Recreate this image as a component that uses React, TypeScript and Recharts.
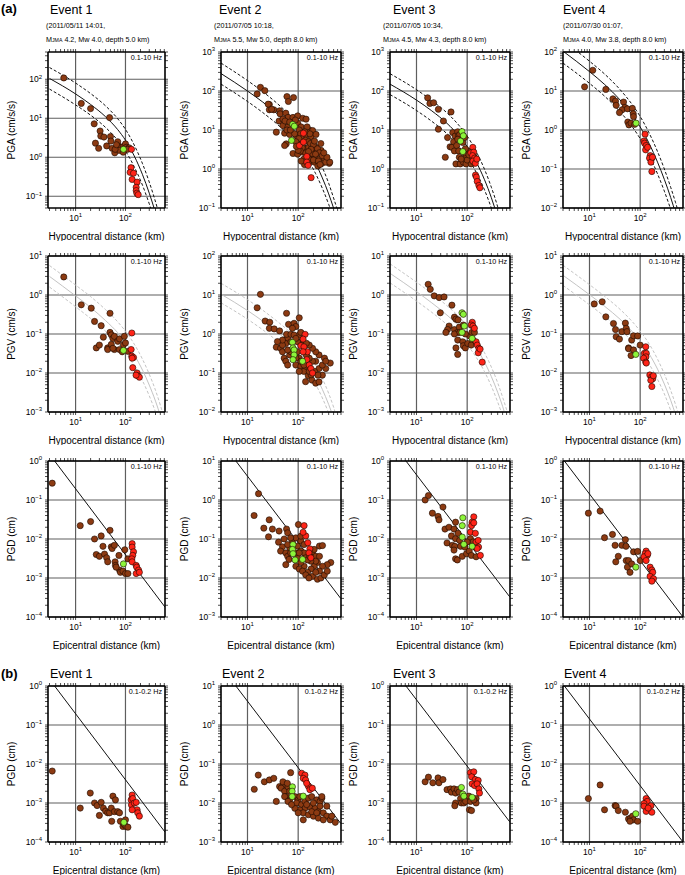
import React from 'react'
import { ComposedChart, XAxis, YAxis, Scatter, Line, ReferenceLine } from 'recharts'

type Pt = [number, number]

// ---------- (a) PGA, 0.1-10 Hz ----------
const e1PgaBrown: Pt[] = [[5.8,108],[13,24],[20,17.7],[23.6,7.2],[48,10.4],[31,4.7],[32,3.5],[37,3.3],[25,2.3],[29,1.7],[42,1.95],[50,3.4],[51,2.6],[54,1.7],[61,1.3],[70,2.5],[73,1.9],[82,1.8],[92,1.9],[100,2.2],[104,1.8],[118,1.75],[75,1.5],[90,1.35],[62,1.6],[66,2.1],[110,1.6]]
const e1PgaGreen: Pt[] = [[91,1.6]]
const e1PgaRed: Pt[] = [[132,1.6],[129,0.54],[124,0.41],[145,0.39],[136,0.27],[171,0.23],[164,0.17],[164,0.14],[169,0.12],[180,0.11]]
const e1PgaMid: Pt[] = [[3,105],[10,42],[20,22.6],[40,10.9],[70,5.1],[100,2.74],[150,1.08],[220,0.356],[300,0.12],[380,0.047]]
const e1PgaHi: Pt[] = [[3,200],[10,80],[20,43],[40,20.7],[70,9.7],[100,5.2],[150,2.05],[220,0.68],[300,0.23],[380,0.09],[470,0.035]]
const e1PgaLo: Pt[] = [[3,56],[10,22],[20,12],[40,5.8],[70,2.7],[100,1.45],[150,0.57],[220,0.19],[300,0.064],[340,0.04]]

const e2PgaBrown: Pt[] = [[18,124],[22,102],[15.5,84],[60,72],[81,68],[64,54],[27,45],[33,33],[27,33],[43,31],[44,26],[57,27],[63,21],[79,21],[98,23],[123,20],[143,19],[42,17],[50,13],[63,12],[98,15],[114,12],[166,10],[193,9.7],[37,8.8],[54,8.3],[68,7.7],[91,7.2],[114,6.6],[143,7.7],[180,6.8],[225,7.7],[58,4.4],[54,4],[98,4.4],[133,3.3],[161,3.6],[193,3],[225,3.6],[283,3],[79,2.5],[98,2.4],[123,2.7],[180,2.2],[210,2],[263,1.8],[328,1.7],[410,1.4],[296,1.4],[133,1.3],[166,1.5],[210,1.5],[244,1.2],[50,19],[55,17],[68,16],[88,18],[105,10],[112,8],[118,6],[103,6],[90,5],[140,5.5],[160,5],[175,4.5],[200,4.2],[240,3.3],[260,2.6],[140,2.6],[120,3.5],[110,2.9],[190,2.5],[220,2.4],[160,1.8],[130,1.8],[200,1.7],[250,1.6],[350,1.5],[300,2.2],[115,1.6],[100,3],[92,3.8],[85,8],[60,10],[70,10],[150,12],[170,8],[135,9],[210,5.2],[280,4.5],[180,3.2],[160,2.8],[25.6,46],[30,34],[420,1.5],[370,2],[320,2.6],[270,1.3]]
const e2PgaGreen: Pt[] = [[78,14],[84,12.5],[74,5.4]]
const e2PgaRed: Pt[] = [[127,8.3],[106,4],[127,4.9],[148,2.1],[148,1.5],[157,1.24],[180,0.6]]
const e2PgaMid: Pt[] = [[3,280],[10,100],[20,52],[40,25],[70,12.4],[100,7.25],[150,3.42],[220,1.42],[300,0.59],[400,0.23],[500,0.099],[600,0.046]]
const e2PgaHi: Pt[] = [[3,520],[10,185],[20,96],[40,46],[70,23],[100,13.4],[150,6.3],[220,2.6],[300,1.1],[400,0.43],[500,0.18],[600,0.085],[700,0.04]]
const e2PgaLo: Pt[] = [[3,150],[10,54],[20,28],[40,13.5],[70,6.7],[100,3.9],[150,1.85],[220,0.77],[300,0.32],[400,0.124],[500,0.053]]

const e3PgaBrown: Pt[] = [[16.6,67],[18.4,48],[21.8,50],[27,34],[34,17],[48,29],[27,10.5],[37,2],[41,6.4],[46,3.7],[50,3.6],[52,8.6],[58,7],[56,2.9],[54,5],[65,9],[68,7.2],[62,4],[68,2.9],[70,2.0],[60,1.35],[73,1.35],[84,1.5],[95,2.2],[103,2.9],[111,1.8],[95,1.35],[120,1.35],[133,2.2],[150,1.8],[140,1.45],[82,4.8],[71,7.6],[89,6.4],[65,5.8],[100,1.7],[88,2.6],[76,1.8],[108,2.3],[92,3.3]]
const e3PgaGreen: Pt[] = [[79,9.1],[84,7.1],[74,5.2],[82,2.8]]
const e3PgaRed: Pt[] = [[129,3.6],[118,2.6],[135,2.7],[128,2.2],[140,1.9],[130,1.6],[145,1.4],[155,1.8],[146,0.7],[152,0.62],[158,0.48],[170,0.38],[178,0.33]]
const e3PgaMid: Pt[] = [[3,150],[10,58.5],[20,31],[40,14.8],[70,6.9],[100,3.76],[150,1.54],[220,0.53],[300,0.184],[400,0.058]]
const e3PgaHi: Pt[] = [[3,278],[10,108],[20,57],[40,27.4],[70,12.8],[100,7],[150,2.85],[220,0.98],[300,0.34],[400,0.107],[500,0.035]]
const e3PgaLo: Pt[] = [[3,81],[10,31.6],[20,16.7],[40,8],[70,3.7],[100,2.03],[150,0.83],[220,0.29],[300,0.1],[360,0.05]]

const e4PgaBrown: Pt[] = [[11.6,34],[8,12.8],[21,11],[29,6.3],[32.6,5.5],[33.6,4.3],[47,5.2],[50,3.8],[44,3.3],[39,2.8],[56,3.5],[70,3.6],[73,2.6],[74,2.2],[57,1.6],[60,1.35],[66,1.5],[78,1.4]]
const e4PgaGreen: Pt[] = [[83,1.5]]
const e4PgaRed: Pt[] = [[125,0.78],[118,0.52],[122,0.46],[131,0.4],[128,0.31],[140,0.36],[158,0.22],[170,0.19],[153,0.19],[163,0.15],[175,0.2],[170,0.086]]
const e4PgaMid: Pt[] = [[3,105],[10,31.4],[20,14.6],[40,5.9],[70,2.4],[100,1.2],[150,0.454],[220,0.15],[300,0.054],[400,0.0186],[500,0.0074]]
const e4PgaHi: Pt[] = [[3,194],[10,58],[20,27],[40,10.9],[70,4.44],[100,2.22],[150,0.84],[220,0.28],[300,0.1],[400,0.034],[500,0.0137],[600,0.006]]
const e4PgaLo: Pt[] = [[3,52],[10,15.7],[20,7.3],[40,2.95],[70,1.2],[100,0.6],[150,0.227],[220,0.075],[300,0.027],[400,0.0093]]

// ---------- (a) PGV, 0.1-10 Hz ----------
const e1PgvBrown: Pt[] = [[5.8,2.9],[13,0.56],[20.6,0.46],[24,0.21],[32.6,0.163],[49,0.34],[26,0.044],[30,0.052],[36,0.083],[44,0.044],[44,0.04],[49,0.11],[52,0.095],[56,0.077],[60,0.087],[60,0.04],[70,0.065],[76,0.075],[76,0.04],[91,0.053],[95,0.087],[100,0.059],[112,0.036],[86,0.035],[52,0.054],[56,0.043]]
const e1PgvGreen: Pt[] = [[91,0.038]]
const e1PgvRed: Pt[] = [[134,0.106],[130,0.04],[134,0.027],[145,0.025],[136,0.024],[140,0.0137],[171,0.01],[176,0.0085],[190,0.0078],[163,0.0088]]
const e1PgvMid: Pt[] = [[3,3],[10,0.95],[20,0.48],[40,0.22],[70,0.108],[100,0.062],[150,0.029],[220,0.0118],[300,0.0049],[400,0.0019],[500,0.0008],[600,0.00035]]
const e1PgvHi: Pt[] = [[3,5.7],[10,1.8],[20,0.91],[40,0.42],[70,0.205],[100,0.118],[150,0.055],[220,0.0224],[300,0.0093],[400,0.0036],[500,0.0015],[600,0.00067]]
const e1PgvLo: Pt[] = [[3,1.6],[10,0.5],[20,0.25],[40,0.117],[70,0.057],[100,0.033],[150,0.0154],[220,0.0063],[300,0.0026],[400,0.001],[500,0.00042]]

const e2PgvBrown: Pt[] = [[18,10.4],[15.5,4.7],[22.3,2.15],[27.5,2],[27,1.4],[33.6,1.35],[43,1.2],[59,3.4],[64.5,1.77],[83,1.88],[105,2.6],[90,1.55],[77,1.4],[37,0.46],[45,0.43],[53,0.7],[62,0.77],[57,0.57],[72,0.63],[105,0.94],[122,0.7],[49,0.35],[53,0.24],[57,0.2],[62,0.16],[68,0.29],[97,0.35],[105,0.24],[90,0.16],[113,0.15],[130,0.11],[158,0.085],[186,0.066],[222,0.055],[258,0.059],[300,0.088],[350,0.13],[430,0.18],[330,0.24],[258,0.29],[222,0.35],[192,0.43],[165,0.52],[145,0.58],[222,0.2],[192,0.2],[165,0.24],[258,0.13],[210,0.11],[180,0.09],[140,0.15],[105,0.11],[113,0.2],[90,0.24],[72,0.35],[62,0.39],[49,0.52],[59,0.98],[72,0.98],[83,0.94],[49,0.7],[39,0.64],[300,0.16],[350,0.2],[245,0.088],[140,0.06],[165,0.11],[130,0.16],[97,0.63],[90,0.77],[113,1.1],[145,0.29]]
const e2PgvGreen: Pt[] = [[77,0.61],[79,0.44],[83,0.39],[83,0.29],[79,0.22],[122,0.2]]
const e2PgvRed: Pt[] = [[137,0.98],[125,0.74],[113,0.5],[130,0.47],[152,0.35],[148,0.22],[165,0.16],[178,0.13],[192,0.1],[125,0.35]]
const e2PgvMid: Pt[] = [[3,10.5],[10,4],[20,2.14],[40,1.07],[70,0.58],[100,0.37],[150,0.193],[220,0.086],[300,0.038],[400,0.0156],[500,0.007]]
const e2PgvHi: Pt[] = [[3,20],[10,7.6],[20,4.07],[40,2.03],[70,1.1],[100,0.7],[150,0.367],[220,0.163],[300,0.072],[400,0.03],[500,0.0133],[600,0.006]]
const e2PgvLo: Pt[] = [[3,6.3],[10,2.4],[20,1.28],[40,0.64],[70,0.35],[100,0.222],[150,0.116],[220,0.052],[300,0.023],[400,0.0094]]

const e3PgvBrown: Pt[] = [[17,1.88],[18.7,1.4],[22.4,0.95],[28,0.86],[35,0.89],[29.5,0.35],[50,0.55],[56,0.27],[60,0.24],[66,0.23],[44,0.16],[41,0.13],[38,0.11],[56,0.13],[65,0.11],[70,0.15],[84,0.17],[56,0.1],[65,0.07],[60,0.044],[65,0.03],[82,0.063],[84,0.05],[92,0.044],[103,0.057],[111,0.09],[124,0.11],[139,0.11],[130,0.07],[120,0.052],[72,0.11],[92,0.1]]
const e3PgvGreen: Pt[] = [[79,0.35],[84,0.32],[88,0.16],[79,0.11],[125,0.077]]
const e3PgvRed: Pt[] = [[126,0.2],[120,0.17],[130,0.16],[139,0.14],[150,0.063],[158,0.052],[170,0.043],[165,0.033],[180,0.041],[198,0.019]]
const e3PgvMid: Pt[] = [[3,3.6],[10,1.22],[20,0.63],[40,0.305],[70,0.156],[100,0.093],[150,0.0448],[220,0.019],[300,0.0081],[400,0.0032],[500,0.0014],[600,0.00065]]
const e3PgvHi: Pt[] = [[3,6.3],[10,2.13],[20,1.1],[40,0.53],[70,0.273],[100,0.163],[150,0.078],[220,0.033],[300,0.0142],[400,0.0056],[500,0.0024],[600,0.00114],[700,0.00055]]
const e3PgvLo: Pt[] = [[3,2.05],[10,0.7],[20,0.36],[40,0.174],[70,0.089],[100,0.053],[150,0.0255],[220,0.0108],[300,0.0046],[400,0.0018],[500,0.0008]]

const e4PgvBrown: Pt[] = [[12.4,0.59],[17.8,0.67],[21,0.275],[29.7,0.186],[32.6,0.13],[33.6,0.085],[39,0.074],[43.5,0.115],[51,0.19],[53,0.14],[55,0.115],[59,0.044],[59,0.042],[68,0.07],[74,0.09],[89,0.089],[100,0.052],[66,0.028],[74,0.039]]
const e4PgvGreen: Pt[] = [[82,0.03]]
const e4PgvRed: Pt[] = [[129,0.047],[121,0.032],[132,0.032],[130,0.026],[117,0.024],[129,0.019],[132,0.018],[155,0.0089],[170,0.008],[177,0.0071],[162,0.0065],[170,0.0045],[182,0.0085]]
const e4PgvMid: Pt[] = [[3,3.2],[10,1.02],[20,0.51],[40,0.24],[70,0.115],[100,0.066],[150,0.031],[220,0.0126],[300,0.0052],[400,0.002],[500,0.00085],[600,0.00038]]
const e4PgvHi: Pt[] = [[3,5.8],[10,1.84],[20,0.92],[40,0.43],[70,0.207],[100,0.119],[150,0.056],[220,0.0227],[300,0.0094],[400,0.0036],[500,0.00153],[600,0.00068]]
const e4PgvLo: Pt[] = [[3,1.76],[10,0.56],[20,0.28],[40,0.132],[70,0.063],[100,0.036],[150,0.017],[220,0.0069],[300,0.0029],[400,0.0011],[500,0.00047]]

// ---------- (a) PGD, 0.1-10 Hz ----------
const e1PgdBrown: Pt[] = [[3.4,0.27],[12.4,0.022],[20,0.028],[24,0.01],[26,0.004],[30,0.0036],[32.6,0.012],[35.4,0.0065],[38,0.0041],[42,0.0033],[44,0.0026],[49,0.0167],[52,0.0063],[54,0.0057],[60,0.0069],[62,0.0026],[63,0.0021],[74,0.0038],[76,0.0016],[79,0.0014],[89,0.0015],[97,0.0053],[100,0.0013],[112,0.0013],[112,0.0031],[65,0.0019]]
const e1PgdGreen: Pt[] = [[91,0.0023]]
const e1PgdRed: Pt[] = [[136,0.0076],[136,0.0062],[145,0.0047],[140,0.0038],[134,0.0031],[136,0.0026],[164,0.0021],[168,0.0019],[183,0.0016],[164,0.0013],[190,0.0014]]

const e2PgdBrown: Pt[] = [[16.5,1.45],[13.5,0.4],[21,0.19],[26.8,0.31],[26,0.114],[31,0.18],[42,0.16],[59,0.18],[101,0.235],[62,0.144],[41,0.083],[53,0.1],[49,0.063],[45,0.049],[57,0.044],[62,0.036],[57,0.022],[66,0.03],[68,0.06],[77,0.083],[90,0.107],[113,0.088],[97,0.066],[113,0.049],[131,0.044],[141,0.033],[192,0.044],[222,0.036],[263,0.066],[302,0.068],[240,0.025],[207,0.02],[180,0.017],[153,0.014],[192,0.011],[240,0.0093],[281,0.01],[328,0.012],[375,0.015],[440,0.025],[375,0.022],[302,0.02],[263,0.015],[222,0.014],[131,0.02],[113,0.025],[97,0.033],[90,0.044],[71,0.044],[90,0.02],[105,0.017],[122,0.015],[141,0.012],[163,0.01],[222,0.027],[263,0.036],[178,0.027],[153,0.029],[207,0.054],[170,0.036],[131,0.072],[105,0.044],[62,0.072],[71,0.107],[113,0.118]]
const e2PgdGreen: Pt[] = [[79,0.072],[77,0.054],[79,0.042],[87,0.029],[122,0.03]]
const e2PgdRed: Pt[] = [[131,0.22],[141,0.12],[125,0.149],[155,0.08],[170,0.056],[163,0.044],[178,0.033]]

const e3PgdBrown: Pt[] = [[14.8,0.1],[17.2,0.13],[20.6,0.046],[26.6,0.038],[27.8,0.031],[33.3,0.066],[36.5,0.018],[43.7,0.02],[40,0.0079],[49,0.012],[55,0.018],[59,0.027],[51,0.0069],[57,0.0065],[59,0.0102],[66,0.014],[71,0.0092],[74,0.0065],[55,0.0052],[59,0.0031],[64,0.0029],[80,0.0036],[90,0.0062],[97,0.0042],[110,0.0049],[121,0.0038],[116,0.0102],[130,0.0084],[145,0.0062],[150,0.0035],[100,0.0084]]
const e3PgdGreen: Pt[] = [[82,0.035],[80,0.022],[80,0.0112],[86,0.0073],[125,0.0065]]
const e3PgdRed: Pt[] = [[135,0.037],[125,0.027],[122,0.022],[135,0.026],[116,0.015],[145,0.014],[150,0.0084],[165,0.0092],[168,0.0062],[157,0.0057],[182,0.0038]]

const e4PgdBrown: Pt[] = [[9.5,0.046],[16.2,0.052],[19.8,0.0108],[28.4,0.0131],[32,0.0069],[37,0.0036],[33,0.0026],[43.5,0.0069],[51,0.0096],[52.5,0.0065],[53,0.0028],[59,0.0028],[56,0.0019],[63,0.0014],[68,0.0023],[74,0.0047],[89,0.0048],[100,0.0028]]
const e4PgdGreen: Pt[] = [[82,0.0019]]
const e4PgdRed: Pt[] = [[131,0.0049],[125,0.0042],[138,0.0038],[119,0.0035],[131,0.0028],[142,0.0042],[157,0.0019],[170,0.0016],[177,0.0014],[157,0.0011],[183,0.00096],[170,0.00083]]

// ---------- (b) PGD, 0.1-0.2 Hz ----------
const e1LowBrown: Pt[] = [[3.4,0.0066],[12.4,0.00074],[19.7,0.0018],[24,0.001],[27,0.00086],[30,0.00048],[32.6,0.00104],[36,0.00074],[40,0.00062],[44,0.00056],[48,0.00056],[52,0.00074],[56,0.0015],[63,0.0012],[60,0.0006],[70,0.0006],[53,0.00034],[76,0.00056],[79,0.00034],[89,0.00025],[95,0.00028],[100,0.00037],[103,0.00025],[112,0.00024]]
const e1LowGreen: Pt[] = [[93,0.00032]]
const e1LowRed: Pt[] = [[136,0.0016],[130,0.0012],[140,0.0013],[132,0.00089],[150,0.001],[164,0.00104],[171,0.00067],[176,0.00056],[190,0.00046],[136,0.00067]]

const e2LowBrown: Pt[] = [[13.6,0.0225],[16.3,0.052],[21.5,0.035],[27,0.039],[33,0.043],[37,0.011],[43,0.0265],[50,0.028],[71,0.06],[46,0.024],[54,0.02],[63,0.026],[68,0.02],[58,0.0146],[68,0.012],[86,0.0146],[100,0.012],[108,0.0146],[93,0.01],[117,0.0091],[136,0.011],[159,0.0133],[185,0.0146],[232,0.012],[270,0.011],[293,0.0133],[136,0.0073],[170,0.008],[215,0.0073],[250,0.006],[313,0.0056],[367,0.0046],[428,0.0037],[540,0.0032],[460,0.0046],[108,0.0066],[126,0.0056],[159,0.005],[200,0.0046],[250,0.0041],[313,0.0037],[86,0.0073],[100,0.0056],[126,0.0037],[185,0.006],[232,0.0056],[54,0.0146],[63,0.011],[74,0.0091],[147,0.0091],[200,0.01],[270,0.0083],[367,0.0083],[293,0.0146],[50,0.035],[61,0.032]]
const e2LowGreen: Pt[] = [[77,0.026],[76,0.02],[76,0.0146],[126,0.015]]
const e2LowRed: Pt[] = [[117,0.058],[136,0.052],[126,0.043],[140,0.039],[159,0.027],[170,0.022],[190,0.024],[147,0.032]]

const e3LowBrown: Pt[] = [[14.8,0.0035],[17.2,0.0046],[21,0.0033],[26.6,0.0044],[27.8,0.0033],[33.3,0.004],[40,0.0022],[47,0.0023],[49,0.0019],[55,0.0023],[59,0.0018],[64,0.0022],[69,0.0019],[59,0.001],[57,0.00085],[74,0.0013],[77,0.001],[86,0.001],[93,0.0011],[108,0.0015],[116,0.0011],[111,0.00067],[122,0.00064],[150,0.0013],[150,0.001],[135,0.0012]]
const e3LowGreen: Pt[] = [[77,0.0025],[82,0.0017],[86,0.0015],[125,0.0014]]
const e3LowRed: Pt[] = [[116,0.006],[135,0.0063],[122,0.0047],[145,0.004],[165,0.0038],[125,0.0031],[140,0.0028],[157,0.0031],[170,0.0023],[175,0.0018]]

const e4LowBrown: Pt[] = [[9.5,0.0013],[16.2,0.0029],[19.8,0.00067],[32,0.00086],[33.6,0.00083],[37,0.00064],[51,0.00058],[59,0.00039],[65,0.00041],[71,0.00046],[74,0.00037],[89,0.00034],[63,0.00034]]
const e4LowGreen: Pt[] = [[82,0.00053]]
const e4LowRed: Pt[] = [[131,0.0013],[138,0.0011],[119,0.00097],[119,0.00083],[131,0.00061],[163,0.00085],[170,0.00058],[144,0.00074]]

// straight PGD reference lines (same in (a) and (b))
const e1PgdLine: Pt[] = [[3.8,1],[620,0.00018]]
const e2PgdLine: Pt[] = [[5.9,10],[690,0.003]]
const e3PgdLine: Pt[] = [[6.2,1],[690,0.00033]]
const e4PgdLine: Pt[] = [[3.2,1],[700,0.0001]]

const EVENTS = ['Event 1', 'Event 2', 'Event 3', 'Event 4']
const EVENT_DATES = ['(2011/05/11 14:01,', '(2011/07/05 10:18,', '(2011/07/05 10:34,', '(2011/07/30 01:07,']
const EVENT_MAGS = ['4.2, Mw 4.0, depth 5.0 km)', '5.5, Mw 5.0, depth 8.0 km)', '4.5, Mw 4.3, depth 8.0 km)', '4.0, Mw 3.8, depth 8.0 km)']

const X_DOMAINS: [number, number][] = [[2.8, 620], [3, 700], [3, 700], [3, 700]]
const PGA_DOMAINS: [number, number][] = [[0.05, 500], [0.1, 1000], [0.1, 1000], [0.01, 100]]
const PGV_DOMAINS: [number, number][] = [[0.001, 10], [0.01, 100], [0.001, 10], [0.001, 10]]
const PGD_DOMAINS: [number, number][] = [[1e-4, 1], [1e-3, 10], [1e-4, 1], [1e-4, 1]]

const COL_LEFT = [48, 221, 390, 563]
const COL_W = [117, 120, 120, 120]
const ROW_TOP = [52, 256, 461, 686]
const PLOT_H = 156
const AX_L = 45
const AX_B = 33

const FONT = "'Liberation Sans', Arial, Helvetica, sans-serif"
const BROWN = '#8c3a12'
const RED = '#ff2418'
const GREEN = '#8cf53a'

type Curve = { pts: Pt[]; color: string; dash?: string; smooth: boolean }
interface Panel {
  row: number
  col: number
  yDomain: [number, number]
  yLabel: string
  xLabel: string
  band: string
  brown: Pt[]
  green: Pt[]
  red: Pt[]
  curves: Curve[]
}

const gmpe = (mid: Pt[], hi: Pt[], lo: Pt[], color: string): Curve[] => [
  { pts: hi, color, dash: '3 2', smooth: true },
  { pts: lo, color, dash: '3 2', smooth: true },
  { pts: mid, color, smooth: true },
]
const straight = (pts: Pt[]): Curve[] => [{ pts, color: '#111', smooth: false }]

const PANELS: Panel[] = [
  { row: 0, col: 0, yDomain: PGA_DOMAINS[0], yLabel: 'PGA (cm/s/s)', xLabel: 'Hypocentral distance (km)', band: '0.1-10 Hz', brown: e1PgaBrown, green: e1PgaGreen, red: e1PgaRed, curves: gmpe(e1PgaMid, e1PgaHi, e1PgaLo, '#111') },
  { row: 0, col: 1, yDomain: PGA_DOMAINS[1], yLabel: 'PGA (cm/s/s)', xLabel: 'Hypocentral distance (km)', band: '0.1-10 Hz', brown: e2PgaBrown, green: e2PgaGreen, red: e2PgaRed, curves: gmpe(e2PgaMid, e2PgaHi, e2PgaLo, '#111') },
  { row: 0, col: 2, yDomain: PGA_DOMAINS[2], yLabel: 'PGA (cm/s/s)', xLabel: 'Hypocentral distance (km)', band: '0.1-10 Hz', brown: e3PgaBrown, green: e3PgaGreen, red: e3PgaRed, curves: gmpe(e3PgaMid, e3PgaHi, e3PgaLo, '#111') },
  { row: 0, col: 3, yDomain: PGA_DOMAINS[3], yLabel: 'PGA (cm/s/s)', xLabel: 'Hypocentral distance (km)', band: '0.1-10 Hz', brown: e4PgaBrown, green: e4PgaGreen, red: e4PgaRed, curves: gmpe(e4PgaMid, e4PgaHi, e4PgaLo, '#111') },
  { row: 1, col: 0, yDomain: PGV_DOMAINS[0], yLabel: 'PGV (cm/s)', xLabel: 'Hypocentral distance (km)', band: '0.1-10 Hz', brown: e1PgvBrown, green: e1PgvGreen, red: e1PgvRed, curves: gmpe(e1PgvMid, e1PgvHi, e1PgvLo, '#c4c4c4') },
  { row: 1, col: 1, yDomain: PGV_DOMAINS[1], yLabel: 'PGV (cm/s)', xLabel: 'Hypocentral distance (km)', band: '0.1-10 Hz', brown: e2PgvBrown, green: e2PgvGreen, red: e2PgvRed, curves: gmpe(e2PgvMid, e2PgvHi, e2PgvLo, '#c4c4c4') },
  { row: 1, col: 2, yDomain: PGV_DOMAINS[2], yLabel: 'PGV (cm/s)', xLabel: 'Hypocentral distance (km)', band: '0.1-10 Hz', brown: e3PgvBrown, green: e3PgvGreen, red: e3PgvRed, curves: gmpe(e3PgvMid, e3PgvHi, e3PgvLo, '#c4c4c4') },
  { row: 1, col: 3, yDomain: PGV_DOMAINS[3], yLabel: 'PGV (cm/s)', xLabel: 'Hypocentral distance (km)', band: '0.1-10 Hz', brown: e4PgvBrown, green: e4PgvGreen, red: e4PgvRed, curves: gmpe(e4PgvMid, e4PgvHi, e4PgvLo, '#c4c4c4') },
  { row: 2, col: 0, yDomain: PGD_DOMAINS[0], yLabel: 'PGD (cm)', xLabel: 'Epicentral distance (km)', band: '0.1-10 Hz', brown: e1PgdBrown, green: e1PgdGreen, red: e1PgdRed, curves: straight(e1PgdLine) },
  { row: 2, col: 1, yDomain: PGD_DOMAINS[1], yLabel: 'PGD (cm)', xLabel: 'Epicentral distance (km)', band: '0.1-10 Hz', brown: e2PgdBrown, green: e2PgdGreen, red: e2PgdRed, curves: straight(e2PgdLine) },
  { row: 2, col: 2, yDomain: PGD_DOMAINS[2], yLabel: 'PGD (cm)', xLabel: 'Epicentral distance (km)', band: '0.1-10 Hz', brown: e3PgdBrown, green: e3PgdGreen, red: e3PgdRed, curves: straight(e3PgdLine) },
  { row: 2, col: 3, yDomain: PGD_DOMAINS[3], yLabel: 'PGD (cm)', xLabel: 'Epicentral distance (km)', band: '0.1-10 Hz', brown: e4PgdBrown, green: e4PgdGreen, red: e4PgdRed, curves: straight(e4PgdLine) },
  { row: 3, col: 0, yDomain: PGD_DOMAINS[0], yLabel: 'PGD (cm)', xLabel: 'Epicentral distance (km)', band: '0.1-0.2 Hz', brown: e1LowBrown, green: e1LowGreen, red: e1LowRed, curves: straight(e1PgdLine) },
  { row: 3, col: 1, yDomain: PGD_DOMAINS[1], yLabel: 'PGD (cm)', xLabel: 'Epicentral distance (km)', band: '0.1-0.2 Hz', brown: e2LowBrown, green: e2LowGreen, red: e2LowRed, curves: straight(e2PgdLine) },
  { row: 3, col: 2, yDomain: PGD_DOMAINS[2], yLabel: 'PGD (cm)', xLabel: 'Epicentral distance (km)', band: '0.1-0.2 Hz', brown: e3LowBrown, green: e3LowGreen, red: e3LowRed, curves: straight(e3PgdLine) },
  { row: 3, col: 3, yDomain: PGD_DOMAINS[3], yLabel: 'PGD (cm)', xLabel: 'Epicentral distance (km)', band: '0.1-0.2 Hz', brown: e4LowBrown, green: e4LowGreen, red: e4LowRed, curves: straight(e4PgdLine) },
]

const toXY = (pts: Pt[]) => pts.map(([x, y]) => ({ x, y }))

const isDecade = (v: number) => Math.abs(Math.log10(v) - Math.round(Math.log10(v))) < 1e-6

// all 1..9 x 10^n positions inside the domain (minor + major ticks)
function logTicks([lo, hi]: [number, number]) {
  const out: number[] = []
  for (let e = Math.floor(Math.log10(lo)); e <= Math.ceil(Math.log10(hi)); e++) {
    for (let k = 1; k <= 9; k++) {
      const v = Number((k * Math.pow(10, e)).toPrecision(4))
      if (v >= lo * 0.999 && v <= hi * 1.001) out.push(v)
    }
  }
  return out
}

function LogTick(props: any) {
  const { x, y, payload, side } = props
  const v = payload?.value
  if (!side || !v || !isDecade(v)) return <g />
  const e = Math.round(Math.log10(v))
  const exp = e < 0 ? `\u2212${-e}` : String(e)
  if (side === 'bottom') {
    return (
      <text x={x} y={y} dy="0.8em" textAnchor="middle" fontSize={8.5} fontFamily={FONT} fill="#000">
        10<tspan dy={-3.5} fontSize={6}>{exp}</tspan>
      </text>
    )
  }
  return (
    <text x={x} y={y} dy="0.35em" textAnchor="end" fontSize={8.5} fontFamily={FONT} fill="#000">
      10<tspan dy={-3.5} fontSize={6}>{exp}</tspan>
    </text>
  )
}

const dot = (fill: string) => (p: any) => (
  <circle cx={p.cx} cy={p.cy} r={3.1} fill={fill} stroke="#1a0800" strokeWidth={0.6} />
)

const frame = { stroke: '#000', strokeWidth: 1.6 }
const tickStroke = { stroke: '#000', strokeWidth: 0.7 }

function PanelChart({ p }: { p: Panel }) {
  const xDom = X_DOMAINS[p.col]
  const w = COL_W[p.col]
  const xt = logTicks(xDom)
  const yt = logTicks(p.yDomain)
  const W = AX_L + w + 5
  const H = 5 + PLOT_H + AX_B
  return (
    <div style={{ position: 'absolute', left: COL_LEFT[p.col] - AX_L, top: ROW_TOP[p.row] - 5, width: W, height: H }}>
      <ComposedChart width={W} height={H} margin={{ top: 0, right: 0, bottom: 0, left: 0 }}>
        <XAxis
          dataKey="x" type="number" scale="log" domain={xDom} allowDataOverflow ticks={xt} interval={0}
          height={AX_B} tickSize={3} tickMargin={3} axisLine={frame} tickLine={tickStroke}
          tick={(t: any) => <LogTick {...t} side="bottom" />}
          label={{ value: p.xLabel, position: 'insideBottom', offset: 1, style: { fontSize: 10, fontFamily: FONT, fill: '#000' } }}
        />
        <XAxis
          xAxisId="t" orientation="top" dataKey="x" type="number" scale="log" domain={xDom} allowDataOverflow
          ticks={xt} interval={0} height={5} tickSize={3} axisLine={frame} tickLine={tickStroke}
          tick={(t: any) => <LogTick {...t} />}
        />
        <YAxis
          dataKey="y" type="number" scale="log" domain={p.yDomain} allowDataOverflow ticks={yt} interval={0}
          width={AX_L} tickSize={3} tickMargin={3} axisLine={frame} tickLine={tickStroke}
          tick={(t: any) => <LogTick {...t} side="left" />}
          label={{ value: p.yLabel, angle: -90, position: 'insideLeft', offset: 8, style: { fontSize: 10, fontFamily: FONT, fill: '#000', textAnchor: 'middle' } }}
        />
        <YAxis
          yAxisId="r" orientation="right" dataKey="y" type="number" scale="log" domain={p.yDomain} allowDataOverflow
          ticks={yt} interval={0} width={5} tickSize={3} axisLine={frame} tickLine={tickStroke}
          tick={(t: any) => <LogTick {...t} />}
        />
        {xt.filter(isDecade).map(v => (
          <ReferenceLine key={`x${v}`} x={v} stroke="#5e5e5e" strokeWidth={1.2} />
        ))}
        {yt.filter(isDecade).map(v => (
          <ReferenceLine key={`y${v}`} y={v} stroke="#5e5e5e" strokeWidth={1.2} />
        ))}
        {p.curves.map((c, i) => (
          <Line
            key={i} data={toXY(c.pts)} dataKey="y" type={c.smooth ? 'monotone' : 'linear'}
            stroke={c.color} strokeWidth={1} strokeDasharray={c.dash} dot={false} activeDot={false}
            isAnimationActive={false}
          />
        ))}
        <Scatter data={toXY(p.brown)} dataKey="y" shape={dot(BROWN)} isAnimationActive={false} />
        <Scatter data={toXY(p.red)} dataKey="y" shape={dot(RED)} isAnimationActive={false} />
        <Scatter data={toXY(p.green)} dataKey="y" shape={dot(GREEN)} isAnimationActive={false} />
      </ComposedChart>
      <div style={{
        position: 'absolute', right: 7, top: 7, background: '#fff', fontFamily: FONT,
        fontSize: 7.2, lineHeight: '8px', padding: '0 1px 0 2px', color: '#000',
      }}>
        {p.band}
      </div>
    </div>
  )
}

const EVENT_LEFT_A = [50, 219, 393, 563]
const DATE_LEFT = [46, 214, 383, 563]
const EVENT_LEFT_B = [50, 222, 393, 564]

export default function App() {
  const title: React.CSSProperties = { position: 'absolute', fontFamily: FONT, fontSize: 12.5, lineHeight: 1, color: '#000', whiteSpace: 'nowrap' }
  const sub: React.CSSProperties = { position: 'absolute', fontFamily: FONT, fontSize: 7.2, lineHeight: 1, color: '#000', whiteSpace: 'nowrap' }
  const tag: React.CSSProperties = { position: 'absolute', fontFamily: FONT, fontSize: 13, fontWeight: 700, lineHeight: 1, color: '#000' }
  return (
    <div style={{ position: 'absolute', left: 0, top: 0, width: 685, height: 875, overflow: 'hidden', background: '#fff' }}>
      <div style={{ ...tag, left: 1, top: 2 }}>(a)</div>
      <div style={{ ...tag, left: 1, top: 667 }}>(b)</div>
      {EVENTS.map((ev, i) => (
        <React.Fragment key={ev}>
          <div style={{ ...title, left: EVENT_LEFT_A[i], top: 4 }}>{ev}</div>
          <div style={{ ...sub, left: DATE_LEFT[i], top: 22 }}>{EVENT_DATES[i]}</div>
          <div style={{ ...sub, left: DATE_LEFT[i], top: 36 }}>
            M<span style={{ fontSize: 5.2 }}>JMA</span> {EVENT_MAGS[i]}
          </div>
          <div style={{ ...title, left: EVENT_LEFT_B[i], top: 668 }}>{ev}</div>
        </React.Fragment>
      ))}
      {PANELS.map((p, i) => <PanelChart key={i} p={p} />)}
    </div>
  )
}
